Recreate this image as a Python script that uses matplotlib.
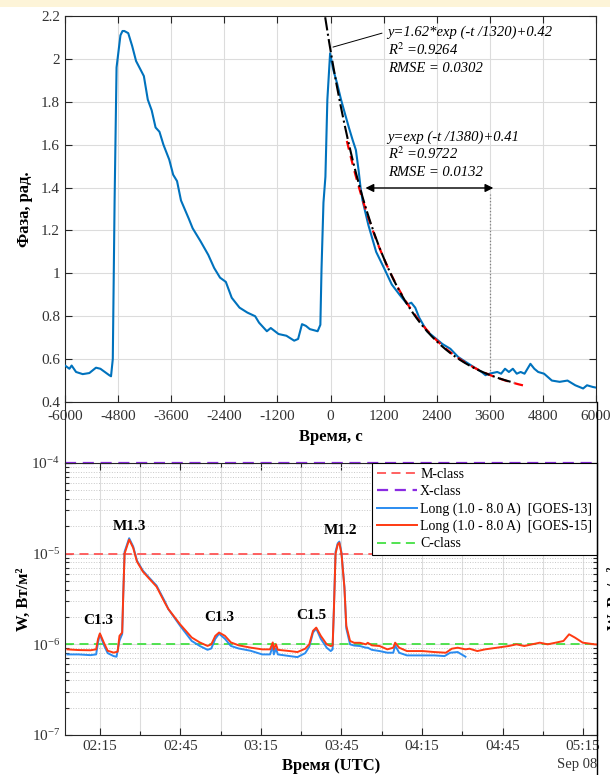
import numpy as np
import matplotlib
matplotlib.use("Agg")
from matplotlib import pyplot as plt
from matplotlib.ticker import FixedLocator, FuncFormatter, LogLocator, NullFormatter
from matplotlib.patches import Rectangle
from matplotlib.lines import Line2D

plt.rcParams['font.family'] = ['Liberation Serif', 'DejaVu Serif']
plt.rcParams['mathtext.fontset'] = 'stix'
plt.rcParams['axes.unicode_minus'] = False

# ---- top panel: phase vs time (s) ----
phase_t = [-6000, -5900, -5850, -5750, -5600, -5450, -5300, -5200, -5100, -5000,
           -4960, -4920, -4879, -4835, -4747, -4700, -4659, -4571, -4482, -4394,
           -4306, -4218, -4129, -4041, -3953, -3865, -3776, -3644, -3556, -3468,
           -3379, -3203, -3115, -2938, -2762, -2629, -2497, -2365, -2232, -2056,
           -1879, -1703, -1615, -1438, -1350, -1174, -997, -821, -732, -644,
           -556, -468, -291, -229, -203, -159, -115, -71, -9, 62,
           150, 238, 326, 415, 503, 574, 635, 679, 724, 856,
           1032, 1209, 1385, 1562, 1738, 1826, 1915, 2003, 2179, 2356,
           2532, 2709, 2885, 3062, 3238, 3415, 3503, 3591, 3768, 3856,
           3944, 4032, 4121, 4209, 4297, 4385, 4518, 4606, 4694, 4826,
           5003, 5179, 5356, 5532, 5709, 5797, 5929, 5980]
phase_v = [0.57, 0.555, 0.57, 0.54, 0.53, 0.535, 0.56, 0.555, 0.54, 0.525,
           0.52, 0.60, 1.34, 1.96, 2.11, 2.13, 2.13, 2.12, 2.06, 1.99,
           1.955, 1.92, 1.81, 1.76, 1.68, 1.66, 1.60, 1.53, 1.46, 1.43,
           1.34, 1.255, 1.21, 1.15, 1.086, 1.025, 0.98, 0.96, 0.886, 0.84,
           0.817, 0.80, 0.77, 0.73, 0.745, 0.717, 0.709, 0.686, 0.694, 0.763,
           0.755, 0.74, 0.73, 0.76, 1.02, 1.33, 1.45, 1.81, 2.026, 1.95,
           1.885, 1.81, 1.745, 1.68, 1.62, 1.575, 1.48, 1.40, 1.34, 1.225,
           1.10, 1.025, 0.948, 0.90, 0.855, 0.863, 0.84, 0.794, 0.73, 0.70,
           0.67, 0.648, 0.61, 0.586, 0.563, 0.54, 0.525, 0.532, 0.54, 0.532,
           0.555, 0.54, 0.555, 0.532, 0.54, 0.532, 0.578, 0.555, 0.54, 0.532,
           0.50, 0.494, 0.50, 0.478, 0.463, 0.478, 0.47, 0.468]

# fit parameters as printed on the chart
fit1_a, fit1_tau, fit1_c = 1.62, 1320, 0.42
fit1_range = (-120, 4150)
fit2_a, fit2_tau, fit2_c, fit2_shift = 1.0, 1380, 0.41, 630
fit2_range = (370, 4430)

# ---- bottom panel: GOES X-ray flux (minutes after 00:00 UTC, units 1e-6 W/m2) ----
g15_t = [122.9, 127.0, 131.5, 133.6, 134.3, 135.0, 136.5, 137.9, 140.1, 141.6,
         142.3, 143.3, 143.7, 144.2, 145.9, 147.4, 148.8, 151.0, 153.2, 156.1,
         159.0, 160.5, 164.9, 169.2, 172.2, 175.1, 176.5, 178.0, 179.4, 181.6,
         183.8, 186.7, 191.1, 195.5, 198.4, 199.4, 199.8, 200.6, 201.3, 205.7,
         208.6, 211.5, 213.0, 214.4, 215.6, 217.3, 219.5, 221.0, 221.7, 222.2,
         222.8, 223.6, 224.2, 225.0, 226.1, 226.8, 228.2, 229.7, 231.9, 234.1,
         234.8, 236.3, 239.2, 242.1, 244.3, 245.0, 246.5, 249.4, 255.2, 259.6,
         263.9, 266.1, 268.3, 271.2, 272.7, 275.6, 278.5, 282.9, 287.3, 290.2,
         293.1, 296.0, 298.9, 301.8, 304.8, 307.7, 309.8, 312.0, 314.9, 319.3,
         321.5]
g15_w = [0.88, 0.865, 0.86, 0.88, 1.14, 1.32, 1.04, 0.85, 0.81, 0.83,
         1.24, 1.35, 3.5, 10.0, 14.3, 11.6, 8.2, 6.35, 5.37, 4.33,
         2.95, 2.45, 1.66, 1.19, 1.05, 0.96, 1.0, 1.24, 1.35, 1.24,
         1.05, 0.975, 0.92, 0.88, 0.88, 1.05, 0.88, 1.0, 0.87, 0.843,
         0.822, 0.895, 1.0, 1.41, 1.53, 1.24, 1.0, 0.958, 0.97, 2.5,
         10.0, 12.6, 13.2, 10.0, 4.2, 1.6, 1.09, 1.04, 1.04, 1.0,
         1.04, 0.975, 0.958, 0.88, 0.918, 1.043, 0.918, 0.843, 0.843, 0.822,
         0.808, 0.895, 0.918, 0.88, 0.895, 0.843, 0.88, 0.918, 0.958, 1.0,
         0.958, 1.0, 1.043, 1.0, 1.043, 1.089, 1.29, 1.186, 1.043, 1.0,
         0.99]
g13_t = [122.9, 127.0, 131.5, 133.6, 134.3, 135.0, 136.5, 137.9, 140.1, 141.2,
         142.3, 143.3, 143.7, 144.2, 145.9, 147.4, 148.8, 151.0, 153.2, 156.1,
         159.0, 160.5, 164.9, 169.2, 172.2, 175.1, 176.5, 178.0, 179.4, 181.6,
         183.8, 186.7, 191.1, 195.5, 198.4, 199.4, 199.8, 200.6, 201.3, 205.7,
         208.6, 211.5, 213.0, 214.4, 215.6, 217.3, 219.5, 221.0, 221.7, 222.2,
         222.8, 223.6, 224.2, 225.0, 226.1, 226.8, 228.2, 229.7, 231.9, 234.1,
         234.8, 236.3, 239.2, 242.1, 244.3, 245.0, 246.5, 249.4, 255.2, 259.6,
         263.4, 265.5, 268.3, 271.2]
g13_w = [0.774, 0.774, 0.76, 0.774, 1.05, 1.29, 0.98, 0.80, 0.742, 0.73,
         1.1, 1.3, 3.5, 10.5, 14.8, 12.0, 8.4, 6.5, 5.5, 4.45,
         3.05, 2.45, 1.6, 1.09, 0.96, 0.87, 0.90, 1.15, 1.31, 1.15,
         0.96, 0.90, 0.85, 0.774, 0.774, 0.96, 0.774, 0.9, 0.774, 0.742,
         0.723, 0.80, 0.94, 1.35, 1.49, 1.15, 0.918, 0.843, 0.88, 2.6,
         10.5, 13.0, 13.6, 10.3, 4.3, 1.5, 1.0, 0.97, 0.958, 0.918,
         0.918, 0.87, 0.843, 0.808, 0.808, 0.97, 0.808, 0.755, 0.755, 0.755,
         0.742, 0.808, 0.822, 0.73]

class_levels = {'M-class': 1e-5, 'X-class': 1e-4, 'C-class': 1e-6}
flare_labels = ['C1.3', 'M1.3', 'C1.3', 'C1.5', 'M1.2']
flare_t = [134.3, 146.0, 179.4, 213.7, 224.6]
flare_w = [1.83e-6, 2.0e-5, 2.0e-6, 2.07e-6, 1.8e-5]

fig = plt.figure(figsize=(6.1, 7.75), dpi=100)
fig.patches.append(Rectangle((0, 1 - 7 / 775), 1, 7 / 775, transform=fig.transFigure,
                             facecolor='#fdf4d8', edgecolor='none', zorder=0))

spine_col = '#262626'

# ===== top axes =====
ax1 = fig.add_axes([65 / 610, 1 - 402 / 775, 531 / 610, 386 / 775])
ax1.plot(phase_t, phase_v, color='#0072BD', lw=1.5, zorder=3)
t1 = np.linspace(*fit1_range, 200)
t2 = np.linspace(*fit2_range, 200)
ax1.plot(t2, fit2_a * np.exp(-(t2 - fit2_shift) / fit2_tau) + fit2_c,
         color='red', ls=(0, (4, 3)), lw=1.6, zorder=4)
ax1.plot(t1, fit1_a * np.exp(-t1 / fit1_tau) + fit1_c,
         color='black', ls='-.', lw=1.5, zorder=5)
ax1.vlines(3600, 0.53, 1.37, colors='#808080', linestyles=':', lw=0.9)
ax1.annotate('', xy=(790, 1.398), xytext=(3680, 1.398),
             arrowprops=dict(arrowstyle='<|-|>', color='black', lw=1.0,
                             mutation_scale=12, shrinkA=0, shrinkB=0))
ax1.annotate('', xy=(56, 2.055), xytext=(1164, 2.12),
             arrowprops=dict(arrowstyle='-', color='black', lw=0.7,
                             shrinkA=0, shrinkB=0))
fs_ann = 10.5
ax1.text(1290, 2.125, 'y=1.62*exp (-t /1320)+0.42', style='italic', fontsize=fs_ann, va='center')
ax1.text(1290, 2.041, r'R$^{2}$ =0.9264', style='italic', fontsize=fs_ann, va='center')
ax1.text(1290, 1.953, 'RMSE = 0.0302', style='italic', fontsize=fs_ann, va='center')
ax1.text(1290, 1.636, 'y=exp (-t /1380)+0.41', style='italic', fontsize=fs_ann, va='center')
ax1.text(1290, 1.557, r'R$^{2}$ =0.9722', style='italic', fontsize=fs_ann, va='center')
ax1.text(1290, 1.468, 'RMSE = 0.0132', style='italic', fontsize=fs_ann, va='center')

ax1.set_xlim(-6000, 6000)
ax1.set_ylim(0.4, 2.2)
ax1.set_xticks(np.arange(-6000, 6001, 1200))
ax1.set_yticks(np.arange(0.4, 2.21, 0.2))
ax1.yaxis.set_major_formatter(FuncFormatter(lambda v, p: ('%.1f' % v).rstrip('0').rstrip('.')))
ax1.grid(True, color='#dcdcdc', lw=0.8)
ax1.tick_params(direction='in', top=True, right=True, labelsize=11, colors=spine_col,
                length=5, width=0.8)
ax1.tick_params(axis='x', pad=6)
for s in ax1.spines.values():
    s.set_color(spine_col)
    s.set_linewidth(0.8)
ax1.set_xlabel('Время, с', fontsize=12, fontweight='bold', labelpad=4)
ax1.set_ylabel('Фаза, рад.', fontsize=12, fontweight='bold', labelpad=6)
for lab in ax1.get_xticklabels() + ax1.get_yticklabels():
    lab.set_color('#333333')

# ===== bottom axes =====
ax2 = fig.add_axes([65 / 610, 1 - 735 / 775, 532 / 610, 272 / 775])
ax2.set_yscale('log')
ax2.axhline(class_levels['M-class'], color='#ff5555', ls=(0, (5, 3)), lw=1.3, label='M-class')
ax2.axhline(class_levels['X-class'], color='#8a2be2', ls=(0, (5, 3)), lw=1.6,
            label='X-class', clip_on=False)
ax2.plot(g13_t, np.array(g13_w) * 1e-6, color='#2b8cf0', lw=1.4,
         label='Long (1.0 - 8.0 A)  [GOES-13]', zorder=3)
ax2.plot(g15_t, np.array(g15_w) * 1e-6, color='#ff3a12', lw=1.4,
         label='Long (1.0 - 8.0 A)  [GOES-15]', zorder=4)
ax2.axhline(class_levels['C-class'], color='#44e044', ls=(0, (5, 3)), lw=1.3,
            label='C-class', zorder=2)

for lab, t, w in zip(flare_labels, flare_t, flare_w):
    ax2.text(t, w, lab, fontsize=11, fontweight='bold', ha='center', va='center')

ax2.set_xlim(122, 320.2)
ax2.set_ylim(1e-7, 1e-4)
ax2.xaxis.set_major_locator(FixedLocator(np.arange(135, 321, 30)))
ax2.xaxis.set_minor_locator(FixedLocator(np.arange(150, 321, 30)))
ax2.xaxis.set_major_formatter(FuncFormatter(lambda m, p: '%02d:%02d' % (int(m) // 60, int(m) % 60)))
ax2.yaxis.set_major_locator(LogLocator(base=10, numticks=10))
ax2.yaxis.set_minor_locator(LogLocator(base=10, subs=np.arange(2, 10), numticks=10))
ax2.yaxis.set_minor_formatter(NullFormatter())
ax2.grid(True, which='major', axis='x', color='#dcdcdc', lw=0.8)
ax2.grid(True, which='minor', axis='x', color='#dcdcdc', lw=0.8)
ax2.grid(True, which='major', axis='y', color='#dcdcdc', lw=0.8)
ax2.grid(True, which='minor', axis='y', color='#c8c8c8', lw=0.7, ls=':')
ax2.tick_params(which='both', direction='in', top=True, right=True, colors=spine_col, width=0.8)
ax2.tick_params(which='major', labelsize=11, length=5)
ax2.tick_params(which='minor', length=3)
for s in ax2.spines.values():
    s.set_color(spine_col)
    s.set_linewidth(0.8)
for lab in ax2.get_xticklabels() + ax2.get_yticklabels():
    lab.set_color('#333333')
ax2.set_xlabel('Время (UTC)', fontsize=12, fontweight='bold', labelpad=4)
ax2.set_ylabel('W, Вт/м²', fontsize=12, fontweight='bold', labelpad=0)
ax2.text(1.0, -0.11, 'Sep 08', transform=ax2.transAxes, fontsize=10.5,
         ha='right', va='center', color='#333333')

leg = ax2.legend(loc='upper right', bbox_to_anchor=(1.0, 1.0), borderaxespad=0,
                 fontsize=10, handlelength=2.9, labelspacing=0.3, frameon=True,
                 fancybox=False, borderpad=0.35, handletextpad=0.2)
leg.get_frame().set_edgecolor('black')
leg.get_frame().set_linewidth(0.8)
leg.get_frame().set_alpha(1)

# panel dividers through the gap and cut-off label of the neighbour panel
fig.add_artist(Line2D([597 / 610, 597 / 610], [0, 1 - 402 / 775], transform=fig.transFigure,
                      color='black', lw=1.0))
fig.add_artist(Line2D([65 / 610, 65 / 610], [1 - 463 / 775, 1 - 402 / 775],
                      transform=fig.transFigure, color=spine_col, lw=0.8))
fig.text(615 / 610, 1 - 598 / 775, 'W, Вт/м²', rotation=90, fontsize=12,
         fontweight='bold', ha='center', va='center')

fig.savefig('out.png', dpi=100)
